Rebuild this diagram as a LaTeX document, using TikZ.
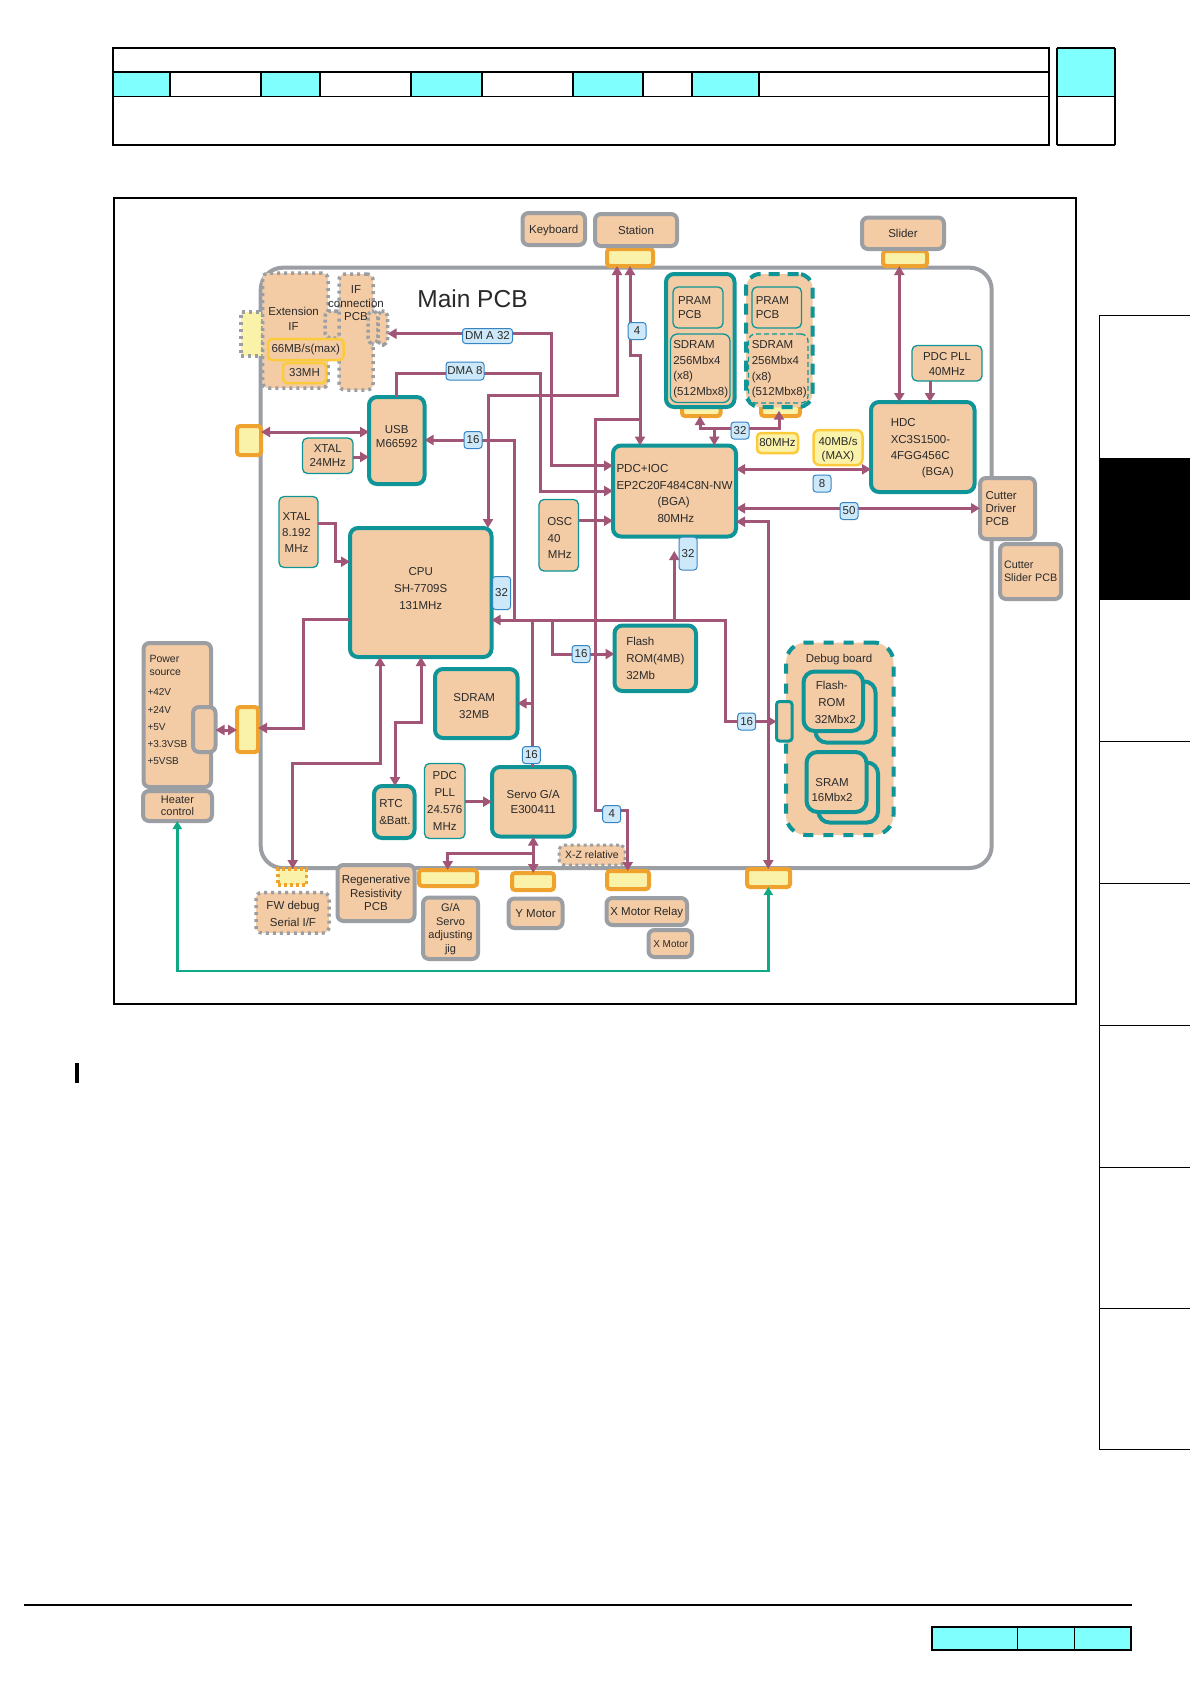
\documentclass[tikz,border=0pt]{standalone}
\usepackage{fontspec}
\setmainfont{Liberation Sans}
\usetikzlibrary{arrows.meta}
\definecolor{peach}{HTML}{F3CBA5}
\definecolor{tealc}{HTML}{0F9597}
\definecolor{grayc}{HTML}{9B9FA4}
\definecolor{orangec}{HTML}{F0A22E}
\definecolor{lyellow}{HTML}{FBF2A9}
\definecolor{yborder}{HTML}{FBCB3C}
\definecolor{maroon}{HTML}{A15677}
\definecolor{tagfill}{HTML}{CDE8F8}
\definecolor{tagline}{HTML}{3585C4}
\definecolor{greenc}{HTML}{10A985}
\definecolor{cyanc}{HTML}{80FFFF}
\definecolor{ink}{HTML}{2A2A2A}
\newcommand\fs[2]{\fontsize{#1}{#2}\selectfont}
\newcommand\bx[8][]{\node[#2,minimum width={(#5-(#3))*1pt},minimum height={(#6-(#4))*1pt},#1] (#7) at ({(#3+#5)/2},{(#4+#6)/2}) {#8};}
\tikzset{
 every node/.style={outer sep=0pt,inner sep=0pt,text=ink,font=\fs{11.5}{14.5},align=center},
 lab/.style 2 args={xshift=#1pt,yshift=#2pt},
 tealbox/.style={draw=tealc,line width=4pt,fill=peach,rounded corners=8pt},
 thinbox/.style={draw=tealc,line width=1.3pt,fill=peach,rounded corners=5pt},
 graybox/.style={draw=grayc,line width=4pt,fill=peach,rounded corners=6pt},
 dotbox/.style={draw=grayc,line width=3.5pt,dash pattern=on 3pt off 4pt,fill=peach,rounded corners=6pt},
 dashbox/.style={draw=tealc,line width=4pt,dash pattern=on 11pt off 8pt,fill=peach,rounded corners=14pt},
 portbox/.style={draw=orangec,line width=4pt,fill=lyellow,rounded corners=3pt},
 yelbox/.style={draw=yborder,line width=2.5pt,fill=#1,rounded corners=4pt},
 yelbox/.default=lyellow,
 tagbox/.style={draw=tagline,line width=1pt,fill=tagfill,rounded corners=3pt,minimum width=18pt,minimum height=17pt},
 c0/.style={draw=maroon,line width=3pt},
 c1/.style={c0,-{Triangle[length=9pt,width=10pt]}},
 c2/.style={c0,{Triangle[length=9pt,width=10pt]}-{Triangle[length=9pt,width=10pt]}},
 hl/.style={draw=black,line width=2.5pt},
 hs/.style={draw=black,line width=1.2pt},
}
\begin{document}
\begin{tikzpicture}[x=1pt,y=-1pt]
\useasboundingbox[fill=white] (0,0) rectangle (1190,1684);
% page furniture
\fill[cyanc] (113,72) rectangle (170,96) (261,72) rectangle (320,96) (411,72) rectangle (482,96) (573,72) rectangle (643,96) (692,72) rectangle (759,96) (1057,48) rectangle (1115,96);
\draw[hl] (113,48) rectangle (1049,145);
\draw[hl] (113,72) -- (1049,72);
\draw[hs] (113,96.3) -- (1049,96.3);
\draw[hl] (170,72) -- (170,96) (411,72) -- (411,96) (482,72) -- (482,96);
\draw[hs] (261,72) -- (261,96) (320,72) -- (320,96) (573,72) -- (573,96) (643,72) -- (643,96) (692,72) -- (692,96) (759,72) -- (759,96);
\draw[hl] (1057,48) -- (1115,48) (1057,145) -- (1115,145);
\draw[hs] (1057,48) -- (1057,145) (1115,48) -- (1115,145) (1057,96.3) -- (1115,96.3);
\draw[hl] (114,198) rectangle (1076,1004);
\fill[black] (1099.5,457.5) rectangle (1190,599.5);
\draw[draw=black,line width=0.9pt] (1190,315) -- (1099.5,315) -- (1099.5,1449) -- (1190,1449);
\draw[draw=black,line width=0.7pt] (1099.5,741) -- (1190,741) (1099.5,883) -- (1190,883) (1099.5,1025) -- (1190,1025) (1099.5,1167) -- (1190,1167) (1099.5,1308.5) -- (1190,1308.5);
\fill[black] (75,1063) rectangle (79,1083);
\draw[draw=black,line width=2pt] (24,1605) -- (1132,1605);
\fill[cyanc] (932,1627) rectangle (1131,1650);
\draw[hl] (932,1627) rectangle (1131,1650);
\draw[hs] (1017.3,1627) -- (1017.3,1650) (1074.3,1627) -- (1074.3,1650);
% main PCB outline
\bx[draw=grayc,line width=4pt,rounded corners=22pt]{}{260.7}{267.7}{991.7}{868}{mainpcb}{}
\node[font=\fs{24.5}{28}] (maintitle) at (472.5,299) {Main PCB};
% extension area
\bx[dash pattern=on 3pt off 4pt,line width=3.5pt,draw=grayc,fill=lyellow]{}{241}{312}{263}{356}{extyellow}{}
\bx{dotbox}{262.5}{273}{328}{388}{extif}{}
\bx[dash pattern=on 3pt off 3pt]{dotbox}{325}{311}{343}{338}{extstub}{}
\bx{dotbox}{339}{274}{373}{390}{ifpcb}{}
\bx[dash pattern=on 3pt off 3pt]{dotbox}{368}{311}{378}{344}{ifstub}{}
\bx[dash pattern=on 3pt off 3pt]{dotbox}{378}{311}{387.5}{345}{ifport}{}
\node (extlab) at (293.6,319) {Extension\\IF};
\node[font=\fs{11.5}{13.5}] (iflab) at (356,303.5) {IF\\connection\\PCB};
\bx{yelbox=peach}{268}{339}{343.5}{360}{rate}{66MB/s(max)}
\bx{yelbox=peach}{283}{363}{326}{383}{clk}{33MH}
% ports
\bx{portbox}{607}{249}{653}{266}{stationport}{}
\bx{portbox}{883}{251}{927}{266}{sliderport}{}
\bx{portbox}{237}{426}{261}{455}{usbport}{}
\bx{portbox}{237}{707}{258}{752}{powerport}{}
\bx{portbox}{419}{870}{477}{886}{gaport}{}
\bx{portbox}{512}{873}{554}{890}{yport}{}
\bx{portbox}{607}{871}{649}{889}{xport}{}
\bx{portbox}{747}{869}{790}{887}{rport}{}
\bx{portbox}{682}{405}{720.5}{416}{pramportA}{}
\bx{portbox}{761}{405}{800}{416}{pramportB}{}
\bx[draw=orangec,line width=3.5pt,dash pattern=on 3pt off 3pt,fill=lyellow]{}{278}{869}{306.5}{885}{fwport}{}
% outside boxes
\bx[text depth=0pt]{graybox}{522.5}{213}{585}{245}{keyboard}{Keyboard}
\bx{graybox}{595}{214}{677}{246}{station}{Station}
\bx{graybox}{862}{217.5}{944}{249}{slider}{Slider}
\bx[align=left,text width=44pt,font=\fs{11.5}{13.2}]{graybox}{980}{478}{1035}{539}{cutter}{Cutter\\Driver\\PCB}
\bx[align=left,text width=53pt,font=\fs{10.8}{13.2}]{graybox}{1000}{544}{1061}{599}{cutterslider}{Cutter\\\mbox{Slider PCB}}
\bx{graybox}{143.5}{643}{211}{787}{power}{}
\node[anchor=north west,align=left,font=\fs{10.5}{13.5}] (powerlab) at (149.5,654.8) {Power\\source};
\node[anchor=north west,align=left,font=\fs{10}{17.2}] (voltlab) at (147.5,689) {+42V\\+24V\\+5V\\+3.3VSB\\+5VSB};
\bx{graybox}{193}{707}{215.5}{752}{powerinner}{}
\bx[font=\fs{11}{12}]{graybox}{143}{791}{212}{821}{heater}{Heater\\control}
\bx[font=\fs{11.5}{13.5}]{graybox}{337.5}{865}{414.5}{921}{regen}{Regenerative\\Resistivity\\PCB}
\bx[label={[lab={0}{-1},font=\fs{11}{13.6}]center:{G/A\\Servo\\adjusting\\jig}}]{graybox}{423}{897.5}{478}{959}{gajig}{}
\bx{graybox}{508.5}{898.5}{562.5}{928}{ymotor}{Y Motor}
\bx[label={[lab={0}{-1}]center:{X Motor Relay}}]{graybox}{606.5}{898}{687}{925}{xrelay}{}
\bx[label={[lab={0.5}{-1},font=\fs{10}{12}]center:{X Motor}}]{graybox}{648.5}{930}{692}{957}{xmotor}{}
\bx[label={[lab={0.5}{-1},font=\fs{11.5}{17}]center:{FW debug\\Serial I/F}}]{dotbox}{256}{892.5}{329}{933}{fwdebug}{}
\bx[dash pattern=on 3pt off 3.5pt,line width=3pt,font=\fs{10.5}{12}]{dotbox}{559}{845}{625}{865}{xz}{X-Z relative}
% PRAM modules
\bx{tealbox}{666}{274}{734.5}{407}{pramA}{}
\bx[align=left,text width=40pt]{thinbox}{673}{287}{723}{328}{prampcbA}{PRAM\\PCB}
\bx[rounded corners=7pt,label={[lab={0}{-1},align=left,text width=54pt,font=\fs{11.5}{15.6}]center:{SDRAM\\256Mbx4\\(x8)\\(512Mbx8)}}]{thinbox}{670.5}{334}{730}{402.5}{sdramA}{}
\bx[dash pattern=on 11pt off 8pt]{dashbox}{746}{274}{812.5}{407}{pramB}{}
\bx[align=left,text width=42pt]{thinbox}{752}{287}{801.5}{328}{prampcbB}{PRAM\\PCB}
\bx[dash pattern=on 5pt off 3pt,rounded corners=7pt,label={[lab={0}{-1},align=left,text width=53pt,font=\fs{11.5}{15.6}]center:{SDRAM\\256Mbx4\\(x8)\\(512Mbx8)}}]{thinbox}{748.5}{334}{808}{403}{sdramB}{}
% core chips
\bx[label={[lab={0}{4}]center:{USB\\M66592}}]{tealbox}{369}{397}{424.5}{484}{usb}{}
\bx[font=\fs{11.5}{14}]{thinbox}{302.5}{438}{353}{473.5}{xtalA}{XTAL\\24MHz}
\bx[label={[lab={-2}{-1},font=\fs{11.5}{16}]center:{XTAL\\8.192\\MHz}}]{thinbox}{279}{496.5}{318}{567.5}{xtalB}{}
\bx[label={[lab={0}{3.5},font=\fs{11.5}{17}]center:{CPU\\SH-7709S\\131MHz}}]{tealbox}{350}{528}{491.5}{657}{cpu}{}
\bx[label={[lab={1}{-3},font=\fs{11.5}{16.3}]center:{OSC\\40\hspace{1em}\mbox{}\\MHz}}]{thinbox}{539}{499.5}{578.5}{571}{osc}{}
\bx[label={[lab={0}{-2.5},align=left,text width=116pt,font=\fs{11.6}{16.4}]center:{PDC+IOC\\\mbox{EP2C20F484C8N-NW}\\\hspace*{41pt}(BGA)\\\hspace*{41pt}80MHz}}]{tealbox}{613}{445.5}{736}{536.5}{pdc}{}
\bx[label={[lab={0}{-1.5},align=left,text width=64pt,font=\fs{11.5}{16.4}]center:{HDC\\XC3S1500-\\4FGG456C\\\hspace*{31pt}(BGA)}}]{tealbox}{871}{402}{974.5}{492}{hdc}{}
\bx[label={[lab={0}{-1}]center:{PDC PLL\\40MHz}}]{thinbox}{912}{345.5}{982}{381}{pllB}{}
\bx[font=\fs{11.5}{13}]{yelbox}{757}{433}{798}{453}{mhz}{80MHz}
\bx[rounded corners=6pt,label={[lab={0}{-2},font=\fs{11.5}{13.5}]center:{40MB/s\\(MAX)}}]{yelbox}{813.5}{430}{862.5}{465}{mbps}{}
\bx[align=left,text width=58pt,font=\fs{11.5}{17}]{tealbox}{614.5}{625.5}{696}{691}{flash}{Flash\\ROM(4MB)\\32Mb}
\bx[label={[lab={-2}{-3},font=\fs{11.5}{17}]center:{SDRAM\\32MB}}]{tealbox}{435}{669}{517.5}{738}{sdram}{}
\bx[font=\fs{11.5}{17},align=left,text width=30pt]{tealbox}{374}{786}{414.5}{838}{rtc}{RTC\\\&Batt.}
\bx[font=\fs{11.5}{17}]{thinbox}{424.5}{763.5}{465}{838.5}{pllA}{PDC\\PLL\\24.576\\MHz}
\bx[font=\fs{11.5}{15.7}]{tealbox}{492}{767}{574.5}{836.5}{servo}{Servo G/A\\E300411}
% debug board
\bx[rounded corners=20pt,dash pattern=on 10pt off 10pt]{dashbox}{786}{642.5}{893.5}{835}{debug}{}
\node (debuglab) at (839,660) {Debug board};
\bx[rounded corners=11pt]{tealbox}{815.5}{681.5}{875.5}{742.5}{flashb}{}
\bx[rounded corners=11pt,label={[lab={-1.5}{-1},font=\fs{11.5}{17}]center:{Flash-\\ROM\\\hspace*{7pt}32Mbx2}}]{tealbox}{803.5}{671.5}{863}{731}{flasha}{}
\bx[rounded corners=11pt]{tealbox}{818.5}{762.5}{878}{822.5}{sramb}{}
\bx[rounded corners=11pt,label={[lab={-4.5}{-8},font=\fs{11.5}{15}]center:{SRAM\\16Mbx2}}]{tealbox}{806.5}{752}{866.5}{812}{srama}{}
\bx[draw=tealc,line width=3pt,fill=peach,rounded corners=3pt]{}{776.5}{701.5}{792}{741}{debugport}{}
% connectors
\coordinate (busA) at (514.5,619);
\coordinate (busB) at (532.7,619);
\coordinate (busC) at (552.7,620);
\coordinate (busD) at (674.3,620);
\coordinate (prambus) at (714.3,428.3);
\draw[c1] (busA) -- (busA |- 0,440) -- (usb.east |- 0,440);
\draw[c2] (usbport.east |- 0,432) -- (usb.west |- 0,432);
\draw[c1] (xtalA.east |- 0,457) -- (usb.west |- 0,457);
\draw[c2] (ifport.east |- 0,333.7) -- (551.8,333.7) -- (551.8,465.7) -- (pdc.west |- 0,465.7);
\draw[c1] (usb.north) -- (usb.north |- 0,373.3) -- (540,373.3) -- (540,491) -- (pdc.west |- 0,491);
\draw[c2] (488,0 |- cpu.north) -- (488,395) -- (617,395) -- (617,0 |- stationport.south);
\draw[c2] (630,0 |- stationport.south) -- (630,355) -- (640,355) -- (640,0 |- pdc.north);
\draw[c1] (640,419.3) -- (595.6,419.3) -- (595.6,810.7) -- (627.7,810.7) -- (627.7,0 |- xport.north);
\draw[c1] (osc.east |- 0,520.7) -- (pdc.west |- 0,520.7);
\draw[c1] (xtalB.east |- 0,523) -- (335,523) -- (335,561.7) -- (cpu.west |- 0,561.7);
\draw[c1] (prambus) -- (prambus |- pdc.north);
\draw[c1] (prambus) -- (700,428.3) -- (700,0 |- pramportA.south);
\draw[c1] (prambus) -- (779,428.3) -- (779,410.7);
\draw[c2] (pdc.east |- 0,469.3) -- (hdc.west |- 0,469.3);
\draw[c2] (pdc.east |- 0,508.3) -- (cutter.west |- 0,508.3);
\draw[c1] (930,0 |- pllB.south) -- (930,0 |- hdc.north);
\draw[c2] (899.3,0 |- sliderport.south) -- (899.3,0 |- hdc.north);
\draw[c1] (busD) -- (674.3,551);
\draw[c2] (pdc.east |- 0,521.7) -- (768.3,521.7) -- (768.3,0 |- rport.north);
\draw[draw=greenc,line width=2.5pt,{Triangle[length=8pt,width=9pt]}-{Triangle[length=8pt,width=9pt]}] (177.3,0 |- heater.south) -- (177.3,971) -- (768.3,971) -- (768.3,0 |- rport.south);
\draw[c2] (cpu.east |- 0,620) -- (725,620) -- (725,721.5) -- (debugport.west |- 0,721.5);
\draw[c1] (busC) -- (552.7,654) -- (flash.west |- 0,654);
\draw[c0] (busB) -- (busB |- servo.north);
\draw[c1] (532.7,703.3) -- (sdram.east |- 0,703.3);
\draw[c1] (cpu.west |- 0,619) -- (303.3,619) -- (303.3,728) -- (powerport.east |- 0,728);
\draw[c2] (powerinner.east |- 0,730) -- (powerport.west |- 0,730);
\draw[c2] (380,0 |- cpu.south) -- (380,763) -- (292.7,763) -- (292.7,0 |- fwport.north);
\draw[c2] (421,0 |- cpu.south) -- (421,722) -- (395,722) -- (395,0 |- rtc.north);
\draw[c1] (pllA.east |- 0,801.7) -- (servo.west |- 0,801.7);
\draw[c2] (servo.south) -- (servo.south |- yport.north);
\draw[c1] (533,853) -- (447.7,853) -- (447.7,0 |- gaport.north);
% width tags
\node[tagbox,minimum width=50pt,minimum height=15pt] (tagDMAa) at (487.5,336) {DM A 32};
\node[tagbox,minimum width=38pt,minimum height=18pt] (tagDMAb) at (465,371) {DMA 8};
\node[tagbox] (tagA) at (473,440) {16};
\node[tagbox] (tagB) at (637,331) {4};
\node[tagbox] (tagC) at (740,430.5) {32};
\node[tagbox] (tagD) at (822,483.5) {8};
\node[tagbox] (tagE) at (849,511) {50};
\node[tagbox,minimum height=33pt] (tagF) at (688,553.5) {32};
\node[tagbox,minimum height=33pt] (tagG) at (501.5,593) {32};
\node[tagbox] (tagH) at (581,654) {16};
\node[tagbox] (tagI) at (746.7,721.5) {16};
\node[tagbox] (tagJ) at (531.4,755) {16};
\node[tagbox] (tagK) at (611.7,814) {4};
\end{tikzpicture}
\end{document}
